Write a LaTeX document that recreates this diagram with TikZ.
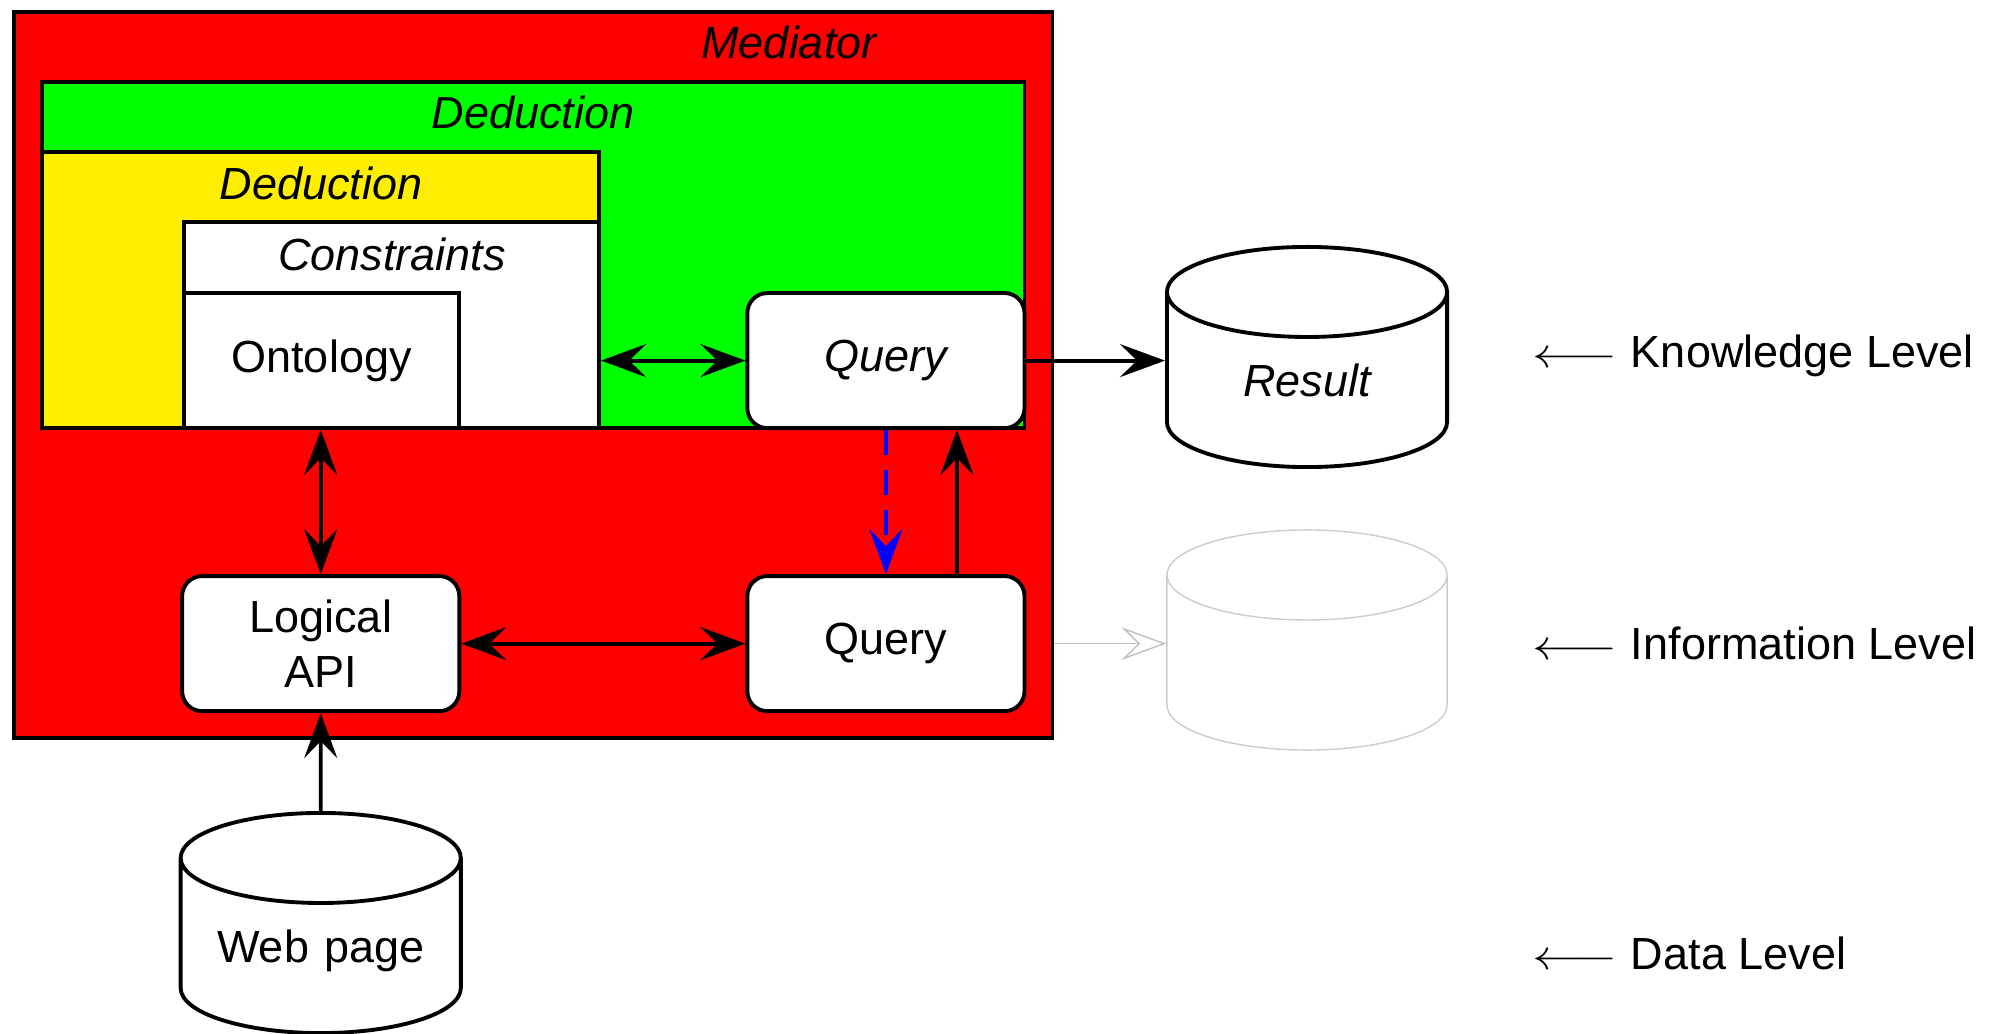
\documentclass[tikz,border=0pt]{standalone}
\usepackage{fontspec}
\setmainfont{Liberation Sans}
\usetikzlibrary{positioning,shapes.geometric,arrows.meta}
\definecolor{medred}{RGB}{255,0,0}
\definecolor{dedgreen}{RGB}{0,255,0}
\definecolor{dedyellow}{RGB}{255,238,0}

\begin{document}
\begin{tikzpicture}[x=0.01cm,y=-0.01cm,
    font=\fontsize{12.8pt}{15.6pt}\selectfont,
    line width=1.1pt,
    >={Stealth[length=0.45cm,width=0.33cm,inset=0.17cm]}]
    \tikzset{
        frame/.style = {rectangle, draw, anchor=north west, inner sep=0pt},
        block/.style = {rectangle, draw, fill=white, rounded corners=0.2cm, inner sep=0pt,
                        minimum width=2.77cm, minimum height=1.35cm, align=center},
        store/.style = {cylinder, shape border rotate=90, draw, fill=white, aspect=0.36,
                        text width=2.5cm, inner xsep=0pt, text depth=0pt, align=center,
                        minimum width=2.8cm, minimum height=2.2cm},
        title/.style = {font=\fontsize{12.8pt}{15.6pt}\selectfont\itshape},
        level/.style = {anchor=west, inner sep=0pt},
    }
    \useasboundingbox (0,0) rectangle (1995,1034);

    % nested frames
    \node [frame, fill=medred, minimum width=10.38cm, minimum height=7.26cm] (mediator) at (12,10) {};
    \node [title] (medtitle) at (789,42) {Mediator};
    \node [frame, fill=dedgreen, minimum width=9.82cm, minimum height=3.46cm] (outerded) at (40,80) {};
    \node [title] (outertitle) at (533,112) {Deduction};
    \node [frame, fill=dedyellow, minimum width=5.57cm, minimum height=2.76cm] (innerded) at (40,150) {};
    \node [title] (innertitle) at (321,183) {Deduction};
    \node [frame, fill=white, minimum width=4.15cm, minimum height=2.06cm] (constraints) at (182,220) {};
    \node [title] (constitle) at (392,254) {Constraints};
    \node [frame, fill=white, minimum width=2.75cm, minimum height=1.35cm,
           anchor=south west] (ontology) at (constraints.south west) {Ontology};

    % query blocks
    \node [block, anchor=south east, title] (queryk) at (outerded.south east) {Query};
    \node [block, below=1.44cm of queryk] (queryi) {Query};
    \node [block, left=2.84cm of queryi] (logapi) {Logical\\API};

    % stores
    \node [store, anchor=shape center] (result) at (1307,357) {\itshape Result};
    \node [store, anchor=shape center, draw=black!20, line width=0.4pt] (infostore) at (1307,640) {};
    \node [store, anchor=shape center] (webpage) at (logapi.center |- 0,923) {Web page};

    % levels
    \node [level] (knowledge) at (1531,356) {\scalebox{1.25}[1]{$\longleftarrow$}\hspace{0.13cm}Knowledge Level};
    \node [level] (information) at (1531,643) {\scalebox{1.25}[1]{$\longleftarrow$}\hspace{0.13cm}Information Level};
    \node [level] (data) at (1531,953) {\scalebox{1.25}[1]{$\longleftarrow$}\hspace{0.13cm}Data Level};

    % connectors
    \draw[<->] (ontology.south -| logapi.north) -- (logapi.north);
    \draw[<->] (queryk.west -| constraints.east) -- (queryk.west);
    \draw[<->] (logapi.east) -- (queryi.west);
    \draw[->, blue, dash pattern=on 0.25cm off 0.15cm] (queryk.south) -- (queryi.north);
    \draw[->] ([xshift=0.71cm]queryi.north) -- ([xshift=0.71cm]queryk.south);
    \draw[->] (queryk.east) -- (queryk.east -| result.west);
    \draw[-{Stealth[open,length=0.45cm,width=0.33cm,inset=0.17cm]}, draw=black!25, line width=0.4pt]
        (queryi.east -| mediator.east) -- (queryi.east -| infostore.west);
    \draw[->] (webpage.north) -- (logapi.south);
\end{tikzpicture}
\end{document}
